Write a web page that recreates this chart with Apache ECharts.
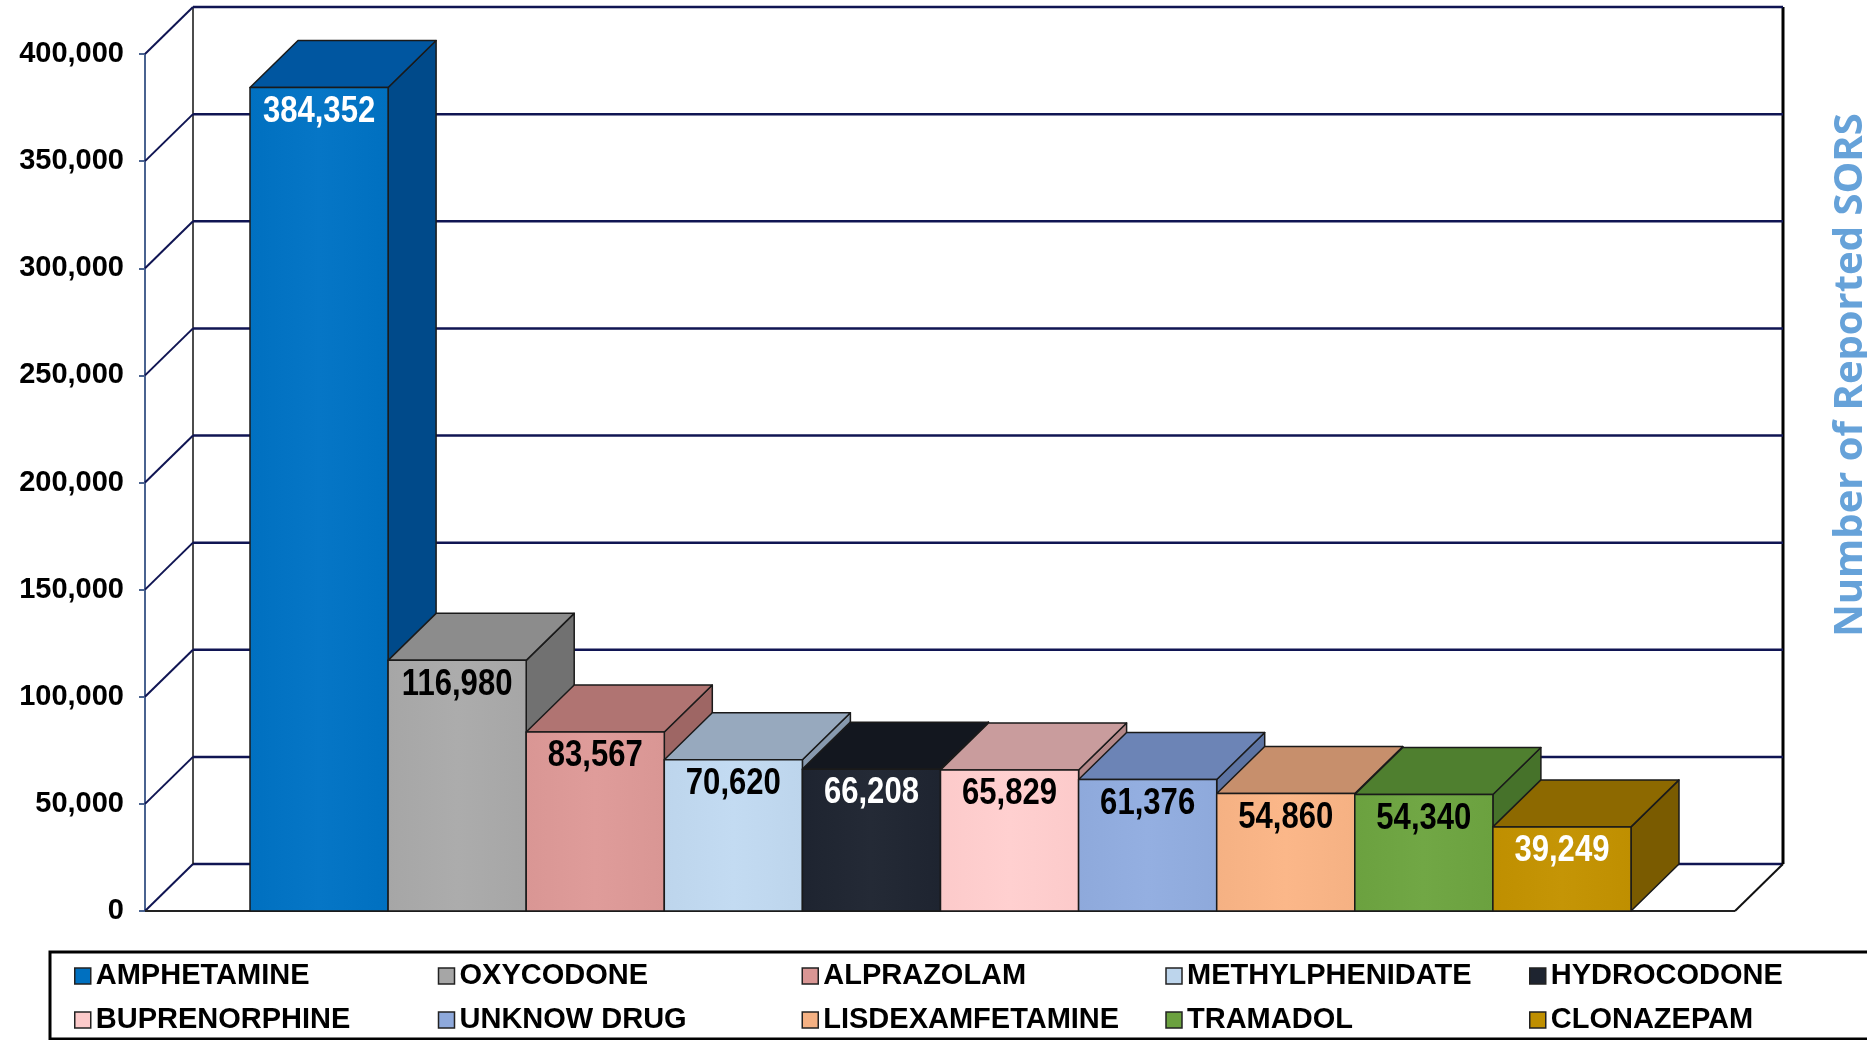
<!DOCTYPE html>
<html>
<head>
<meta charset="utf-8">
<title>Number of Reported SORS</title>
<script src="https://cdn.jsdelivr.net/npm/echarts@6/dist/echarts.min.js"></script>
<style>
  html, body { margin: 0; padding: 0; background: #fff; }
  #chart { width: 1867px; height: 1040px; }
</style>
</head>
<body>
<div id="chart"></div>
<script>
// data
const categories = [
  "AMPHETAMINE", "OXYCODONE", "ALPRAZOLAM", "METHYLPHENIDATE", "HYDROCODONE",
  "BUPRENORPHINE", "UNKNOW DRUG", "LISDEXAMFETAMINE", "TRAMADOL", "CLONAZEPAM"
];
const values = [384352, 116980, 83567, 70620, 66208, 65829, 61376, 54860, 54340, 39249];
const yTicks = [0, 50000, 100000, 150000, 200000, 250000, 300000, 350000, 400000];

// front / top / side colours of each box, and label colour
const frontColors = ["#0070C0", "#A6A6A6", "#D99694", "#BDD5EC", "#1E2430", "#FCCACA", "#8EA9DB", "#F5B183", "#6BA13F", "#BF8F00"];
const topColors   = ["#0056A0", "#8C8C8C", "#B07472", "#97A9BE", "#13171F", "#C99C9D", "#6C84B6", "#C78F6C", "#4F7F2F", "#8D6900"];
const sideColors  = ["#004A8A", "#717171", "#9E6664", "#8799AE", "#0E1118", "#B48889", "#5D74A3", "#B27D5D", "#46722A", "#7A5B00"];
const labelColors = ["#fff", "#000", "#000", "#000", "#fff", "#000", "#000", "#000", "#000", "#fff"];

const DX = 48, DY = -47;      // depth of the 3d boxes / walls
const WALL_PAD = 105;          // distance between front axis and first bar
const FONT = "'Liberation Sans', Arial, sans-serif";

const chart = echarts.init(document.getElementById("chart"));

function lighten(hex, amt) {
  const n = parseInt(hex.slice(1), 16);
  const r = Math.min(255, ((n >> 16) & 255) + amt);
  const g = Math.min(255, ((n >> 8) & 255) + amt);
  const b = Math.min(255, (n & 255) + amt);
  return "rgb(" + r + "," + g + "," + b + ")";
}

// back wall gridlines, left wall diagonals and floor
function renderWalls(params, api) {
  const cs = params.coordSys;
  const y = api.coord([0, api.value(1)])[1];
  const fx = cs.x - WALL_PAD;
  const rx = cs.x + cs.width + WALL_PAD - 1;
  const navy = "#101553";
  const children = [
    { type: "line", shape: { x1: fx, y1: y, x2: fx + DX, y2: y + DY }, style: { stroke: navy, lineWidth: 2 } },
    { type: "line", shape: { x1: fx + DX, y1: y + DY, x2: rx + DX, y2: y + DY }, style: { stroke: navy, lineWidth: 2.5 } }
  ];
  if (params.dataIndex === 0) {
    const yTop = cs.y + DY;
    children.push(
      { type: "line", shape: { x1: fx + DX, y1: y + DY, x2: fx + DX, y2: yTop }, style: { stroke: "#111", lineWidth: 1.5 } },
      { type: "line", shape: { x1: rx + DX, y1: y + DY, x2: rx + DX, y2: yTop }, style: { stroke: "#000", lineWidth: 3 } },
      { type: "line", shape: { x1: fx, y1: y, x2: rx, y2: y }, style: { stroke: "#222", lineWidth: 2 } },
      { type: "line", shape: { x1: rx, y1: y, x2: rx + DX, y2: y + DY }, style: { stroke: "#111", lineWidth: 2 } }
    );
  }
  return { type: "group", children: children };
}

function makeBarRenderer(k) {
  return function (params, api) {
    const idx = api.value(0);
    const top = api.coord([idx, api.value(1)]);
    const base = api.coord([idx, 0]);
    const w = api.size([1, 0])[0];
    const x0 = top[0] - w / 2, x1 = top[0] + w / 2;
    const y0 = top[1], yb = base[1];
    const edge = { stroke: "#1a1a1a", lineWidth: 1.5, lineJoin: "round" };
    return {
      type: "group",
      children: [
        { type: "polygon", shape: { points: [[x1, y0], [x1 + DX, y0 + DY], [x1 + DX, yb + DY], [x1, yb]] },
          style: Object.assign({ fill: sideColors[k] }, edge) },
        { type: "polygon", shape: { points: [[x0, y0], [x0 + DX, y0 + DY], [x1 + DX, y0 + DY], [x1, y0]] },
          style: Object.assign({ fill: topColors[k] }, edge) },
        { type: "rect", shape: { x: x0, y: y0, width: w, height: yb - y0 },
          style: Object.assign({
            fill: new echarts.graphic.LinearGradient(0, 0, 1, 0, [
              { offset: 0, color: frontColors[k] },
              { offset: 0.5, color: lighten(frontColors[k], 6) },
              { offset: 1, color: frontColors[k] }
            ])
          }, edge) },
        // narrow-looking bold label, like the original's condensed font
        { type: "text", x: top[0], y: y0 + 24, scaleX: 0.84,
          style: {
            text: api.value(1).toLocaleString("en-US"),
            fill: labelColors[k],
            font: "bold 37px " + FONT,
            textAlign: "center", textVerticalAlign: "middle"
          } }
      ]
    };
  };
}

const barSeries = categories.map((name, k) => ({
  name: name,
  type: "custom",
  renderItem: makeBarRenderer(k),
  itemStyle: { color: frontColors[k], borderColor: "#222", borderWidth: 1.5 },
  data: [[k, values[k]]],
  z: 3 + k,
  silent: true
}));

function legendRow(names, top) {
  return {
    data: names,
    left: 74,
    top: top,
    padding: 0,
    icon: "rect",
    itemWidth: 16,
    itemHeight: 16,
    itemGap: 26,
    itemStyle: { borderColor: "#222", borderWidth: 1.5 },
    textStyle: {
      width: 316,
      lineHeight: 30,
      color: "#000",
      fontSize: 29,
      fontWeight: "bold",
      fontFamily: FONT
    },
    selectedMode: false
  };
}

const option = {
  animation: false,
  backgroundColor: "#fff",
  grid: { left: 250, right: 236, top: 54, bottom: 129, outerBoundsMode: "none" },
  xAxis: {
    type: "category",
    data: categories,
    show: false
  },
  yAxis: {
    type: "value",
    min: 0,
    max: 400000,
    interval: 50000,
    offset: WALL_PAD,
    axisLine: { show: true, lineStyle: { color: "#4A6390", width: 2 } },
    axisTick: { show: true, length: 6, lineStyle: { color: "#4A6390", width: 2 } },
    splitLine: { show: false },
    axisLabel: {
      margin: 21,
      color: "#000",
      fontSize: 29,
      fontWeight: "bold",
      fontFamily: FONT,
      formatter: v => v.toLocaleString("en-US")
    }
  },
  legend: [
    legendRow(categories.slice(0, 5), 961),
    legendRow(categories.slice(5), 1005)
  ],
  graphic: [
    {
      type: "rect",
      shape: { x: 50, y: 952, width: 1840, height: 87 },
      style: { fill: "none", stroke: "#000", lineWidth: 3 },
      z: 0
    },
    {
      type: "text",
      x: 1851, y: 375,
      rotation: Math.PI / 2,
      style: {
        text: "Number of Reported SORS",
        fill: "#66A2D9",
        font: "bold 40px 'Open Sans', sans-serif",
        textAlign: "center", textVerticalAlign: "middle"
      }
    }
  ],
  series: [
    {
      type: "custom",
      renderItem: renderWalls,
      data: yTicks.map(t => [0, t]),
      z: 1,
      silent: true
    }
  ].concat(barSeries)
};

chart.setOption(option);
</script>
</body>
</html>
